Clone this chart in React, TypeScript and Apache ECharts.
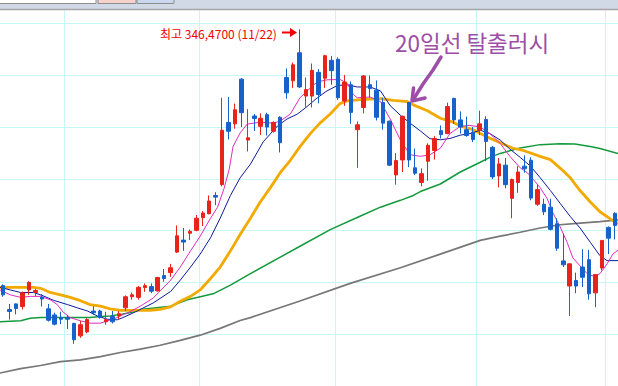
import React, { useEffect, useRef } from "react";
import * as echarts from "echarts";

// ---- candle data (open, close, low, high) ----
const OPEN = [107.7, 83.3, 89, 86.3, 103.3, 100.7, 96, 84, 77.7, 75, 75, 69, 56.3, 60.3, 81.7, 81.7, 70.7, 76, 76.7, 85,
  96.3, 95.7, 105.7, 106.7, 102.3, 118, 121, 142, 154.3, 161.3, 164.3, 177.3, 181.3, 200, 211, 274.7, 273.3, 319, 256.7, 281.3,
  270.7, 282.7, 265.7, 280, 320.7, 317.3, 346, 301.7, 301.7, 326, 320, 338.3, 339.3, 296.7, 313.3, 267.3, 290, 313.3, 307.7, 295,
  276, 221, 236.3, 295, 228.3, 213.3, 235, 246, 266.3, 263.3, 299.3, 277.3, 267.3, 264.7, 266.7, 277.7, 249.3, 220, 231, 197,
  213.3, 230, 236, 191, 191, 188, 171, 133, 107.3, 113, 126.7, 134.3, 100.3, 125.7, 167.3, 181.7];
const CLOSE = [98.3, 81.3, 84.3, 100.3, 111, 102.7, 94, 72.3, 68.3, 73.3, 73.3, 52.3, 67.7, 73, 80, 75, 73, 70.7, 79, 96.3,
  98.3, 106, 107.7, 102, 116, 115, 126, 158.7, 152.3, 163.3, 176.7, 182, 194.3, 198.3, 266.7, 265.7, 287.7, 284.7, 259, 278.7,
  279, 270, 274.7, 254, 305, 333.7, 311, 308.3, 328, 303.3, 343, 327.7, 300, 316, 285, 272.3, 322.3, 309.3, 280, 274,
  231, 235.7, 281, 236.3, 222.7, 222.3, 251.3, 258.3, 262.3, 291, 277.3, 270, 261.3, 257.3, 273.3, 255.3, 219, 232.3, 211, 216.3,
  224, 227.3, 197.3, 206, 183.3, 165.3, 146, 129, 130, 107.3, 116.3, 99.3, 119, 154, 156.3, 169.3];
const LOW = [96.3, 73, 78.3, 83.3, 98.3, 97, 86.3, 71, 67, 68.3, 63.3, 48.3, 54.3, 59, 77.7, 74, 67.7, 69, 73.3, 81.7,
  93.3, 93.3, 101.3, 100, 101.7, 111.7, 116.7, 141, 143.3, 154.3, 163.3, 168.7, 180.7, 190, 209.3, 257.3, 268.3, 270, 245, 266,
  261.7, 261.3, 264.3, 244, 299, 310, 310, 290.7, 290, 294.3, 310, 313.3, 297.7, 291.7, 273.3, 228.3, 284, 300, 276.7, 267.3,
  230, 211, 224, 229, 221, 209.3, 215, 236.7, 258.3, 262.7, 273.3, 263.3, 260, 254.7, 261.7, 235, 216.7, 208.3, 207.3, 176.7,
  202.7, 223.3, 195, 189.3, 180, 164.3, 143.3, 126.7, 76.7, 100, 106.3, 93.3, 85.7, 123.3, 140, 155];
const HIGH = [109, 89, 89.5, 101.7, 112.3, 104.3, 99, 89, 80, 81, 77.7, 69.7, 71.7, 74.3, 86.7, 83, 81, 81.7, 81.7, 97.7,
  100.7, 107.3, 110, 110, 116.7, 124.7, 130, 169.3, 166.7, 165, 180, 184, 200, 203.3, 300, 300.7, 294, 320, 288.3, 283.3,
  284, 284.7, 276, 281, 330, 336, 370, 320.7, 335, 329.3, 344, 342.7, 341.3, 323.3, 316.7, 275.7, 323.3, 322.7, 317.7, 300,
  276.7, 243.3, 281.7, 295.7, 248, 227.7, 253.3, 260.7, 271.7, 295, 300, 286, 280.7, 270, 286.7, 281, 250.7, 238.3, 238.3, 217.3,
  230, 241, 239, 211, 196.7, 196.7, 176.7, 161, 130.7, 121, 145, 144.3, 119.3, 154, 168.3, 182.7];

const CATEGORIES = OPEN.map((_, i) => String(i + 1));
const MONTH_STARTS = [10, 31, 52, 74, 94];

// ---- moving averages, [candle index, value] ----
const MA5 = [[-0.5, 103.3], [1.1, 98.3], [2.7, 95.7], [4.2, 96.7], [5.8, 96.7], [7.3, 93.3], [8.4, 88.3], [9.3, 80.7], [10.4, 75],
  [12, 71.7], [13.5, 69.3], [15.1, 69.3], [16.2, 71.7], [17.1, 73.3], [18.2, 76.7], [19.7, 81], [21.3, 86.7], [23.3, 95],
  [26, 113.3], [27.5, 126.7], [29.1, 143.3], [30.6, 158.3], [32.2, 176.7], [33.3, 188], [34.3, 207], [35.1, 226.7], [35.7, 250],
  [36.8, 264], [37.9, 273], [39.9, 275], [41.9, 274], [43, 276], [44.6, 283.3], [46.1, 300], [47.2, 306.7], [48.2, 313.3],
  [49.2, 316.7], [50.3, 318.3], [52.3, 318.7], [53.4, 315], [54.4, 303.3], [55, 300], [57, 300.7], [58.6, 296], [60.1, 278.3],
  [61.7, 256.7], [63.2, 241.7], [64.8, 240], [66.3, 241.7], [67.9, 248.3], [69.4, 263.3], [71, 270.7], [72.5, 271.7], [74.1, 270],
  [75.6, 263.3], [77.2, 253.3], [78.7, 240], [80.3, 228.3], [81.4, 223.3], [82.3, 216.7], [83.4, 208], [84.5, 196.7], [85.4, 182],
  [86.5, 168], [87.6, 152], [88.5, 136], [89.6, 128], [90.7, 120], [91.8, 117], [92.7, 120], [93.8, 130], [94.7, 140], [95.5, 144]];
const MA10 = [[-0.5, 106], [1.1, 103.3], [2.7, 100.7], [4.7, 100.7], [6.2, 97.3], [7.8, 92.7], [10, 88.3], [11.5, 85], [13.1, 81.7],
  [14.6, 76.7], [16.2, 73.3], [17.7, 72.7], [18.6, 75], [19.7, 78.3], [20.8, 81.7], [23.3, 90], [26, 101.7], [27.5, 113.3],
  [29.1, 126.7], [30.6, 140], [32.2, 156.7], [33.7, 176.7], [35.3, 200], [36.8, 218], [38.4, 232], [40.4, 255], [42.6, 271],
  [44.1, 278.3], [45.7, 283.3], [47.2, 291], [48.8, 300], [50.3, 307], [51.9, 312.5], [53.4, 313.3], [55, 311], [57, 311],
  [58.6, 307], [60.1, 292], [61.7, 282], [63.2, 274], [64.8, 266], [66.3, 258], [67.9, 257], [69.4, 258.3], [71, 261.7],
  [72.5, 263.3], [74.1, 266.7], [75.6, 263.3], [77.2, 256.7], [78.7, 247.5], [80.3, 239], [81.9, 230], [83.4, 218.3], [85, 205],
  [86.5, 192], [88.1, 178.3], [89.6, 166.7], [91.2, 152], [92.7, 138.3], [93.8, 133.3], [95.5, 133.3]];
const MA20 = [[-0.5, 106], [4.7, 106], [5.8, 105], [7.3, 100.7], [8.9, 98.3], [10.4, 95.7], [12, 92.3], [13.5, 88.3], [15.1, 86.7],
  [16.6, 84], [18.2, 82.3], [22.8, 82.5], [24.4, 83.5], [26, 86], [27.5, 91.7], [29.1, 96.7], [30.6, 103.3], [32.2, 115],
  [33.7, 126.7], [35.3, 143.3], [36.8, 160], [38.4, 176.7], [39.9, 193], [41.5, 208], [43, 223], [44.6, 236], [46.1, 250],
  [47.7, 263.3], [49.2, 274], [50.8, 283.3], [52.3, 294], [53.4, 296.7], [55.5, 298], [58.6, 299], [60.6, 297.3], [62.8, 296],
  [63.7, 292.7], [65.9, 286.7], [67.9, 279], [69.9, 275], [71, 271], [73, 267.3], [74.1, 263.3], [75.6, 258.5], [77.2, 254],
  [79.2, 248.3], [80.8, 246], [83.4, 240], [85, 236.7], [86.5, 228], [88.1, 218], [89.6, 205], [91.2, 193.3], [92.7, 183.3],
  [94.3, 176], [95.5, 171]];
const MA60 = [[-0.5, 70.7], [2.7, 71.7], [4.2, 74.3], [5.8, 75], [13.5, 75], [15.1, 76], [16.6, 76.7], [18.2, 78.3], [19.7, 80],
  [21.3, 83.3], [26, 86.7], [28.6, 93.3], [32.6, 99.3], [35.3, 108.3], [38.4, 120], [46.1, 148], [50.8, 165], [55.5, 179],
  [58.6, 188], [61.7, 195], [63.7, 200], [64.8, 204], [67.9, 211.7], [71, 224], [74.1, 234], [75.6, 239], [77.2, 243],
  [80.3, 248.5], [83.4, 252], [86.5, 253], [88.8, 252.7], [91.2, 250], [92.7, 248], [95.5, 243]];
const MA120 = [[-0.5, 18.3], [2.7, 22.7], [5.8, 26], [8.9, 30], [12, 31.7], [15.1, 35], [18.2, 39.3], [21.3, 42.7], [24.4, 46.7],
  [27.5, 51.7], [30.6, 57], [33.7, 64], [36.8, 72], [38.4, 75], [46.1, 92], [53.9, 110], [61.7, 126], [67.9, 140], [74.1, 154],
  [77.2, 158.3], [80.3, 162.3], [83.4, 166.7], [86.5, 170], [89.6, 171.7], [92.7, 173.3], [95.5, 175]];

const RED = "#e8231c";
const BLUE = "#1761cb";
const GRID_COLOR = "#c6f7f7";
const FONT = '"Noto Sans CJK KR", "Noto Sans", sans-serif';

function lineSeries(name: string, data: number[][], color: string, width: number, z: number) {
  return {
    name,
    type: "line",
    xAxisIndex: 1,
    yAxisIndex: 0,
    data,
    showSymbol: false,
    symbol: "none",
    silent: true,
    z,
    lineStyle: { color, width },
  };
}

export default function App() {
  const ref = useRef<HTMLDivElement>(null);
  useEffect(() => {
    if (!ref.current) return;
    const chart = echarts.init(ref.current, null, { renderer: "svg" });
    const candles = OPEN.map((o, i) => [o, CLOSE[i], LOW[i], HIGH[i]]);
    chart.setOption({
      animation: false,
      backgroundColor: "#ffffff",
      grid: { left: 0, right: 0, top: 0, bottom: -9, containLabel: false },
      xAxis: [
        {
          type: "category",
          data: CATEGORIES,
          boundaryGap: true,
          axisLine: { show: false },
          axisTick: { show: false },
          axisLabel: { show: false },
          splitLine: {
            show: true,
            interval: (index: number) => MONTH_STARTS.includes(index),
            lineStyle: { color: GRID_COLOR, width: 1 },
          },
        },
        { type: "value", min: -0.5, max: 95.5, show: false },
      ],
      yAxis: [
        { type: "value", min: 5, max: 400, show: false, scale: true },
        {
          type: "value",
          min: 0,
          max: 395,
          interval: 53,
          axisLine: { show: false },
          axisTick: { show: false },
          axisLabel: { show: false },
          splitLine: { show: true, lineStyle: { color: GRID_COLOR, width: 1 } },
        },
      ],
      series: [
        lineSeries("120", MA120, "#777777", 1.7, 2),
        lineSeries("60", MA60, "#139a3c", 1.5, 3),
        lineSeries("20", MA20, "#f2aa00", 2.8, 4),
        lineSeries("10", MA10, "#0d1b9c", 1, 5),
        lineSeries("5", MA5, "#e02cbc", 1, 6),
        {
          name: "price",
          type: "candlestick",
          xAxisIndex: 0,
          yAxisIndex: 0,
          data: candles,
          barWidth: 4,
          z: 10,
          itemStyle: {
            color: RED,
            color0: BLUE,
            borderColor: RED,
            borderColor0: BLUE,
            borderWidth: 1,
          },
        },
      ],
      graphic: [
        { type: "rect", z: 100, shape: { x: 0, y: 0, width: 618, height: 9 }, style: { fill: "#d2d9e6" } },
        { type: "rect", z: 101, shape: { x: -1, y: -1, width: 97, height: 4.5 }, style: { fill: "#ffffff", stroke: "#8e8e8e", lineWidth: 1 } },
        { type: "rect", z: 101, shape: { x: 98, y: -1, width: 38, height: 4.5 }, style: { fill: "#f6d2ca", stroke: "#8e8e8e", lineWidth: 1 } },
        { type: "rect", z: 101, shape: { x: 137, y: -1, width: 37, height: 4.5 }, style: { fill: "#c9d8ef", stroke: "#8e8e8e", lineWidth: 1 } },
        { type: "line", z: 101, shape: { x1: 0, y1: 9.5, x2: 618, y2: 9.5 }, style: { stroke: "#a4a4a4", lineWidth: 1.5 } },
        {
          type: "text",
          z: 50,
          x: 160,
          y: 33.5,
          style: { text: "최고 346,4700 (11/22)", fill: "#f00000", font: `12px ${FONT}`, verticalAlign: "middle", align: "left" },
        },
        { type: "line", z: 50, shape: { x1: 282, y1: 32.5, x2: 291, y2: 32.5 }, style: { stroke: "#f00000", lineWidth: 2 } },
        { type: "polygon", z: 50, shape: { points: [[290, 28], [297, 32.5], [290, 37]] }, style: { fill: "#f00000" } },
        {
          type: "text",
          z: 50,
          x: 395,
          y: 41.5,
          style: { text: "20일선 탈출러시", fill: "#9d4ea6", font: `22.5px ${FONT}`, verticalAlign: "middle", align: "left" },
        },
        {
          type: "polyline",
          z: 50,
          shape: { points: [[441, 57], [433, 70], [423, 84], [413, 100]] },
          style: { stroke: "#9d4ea6", lineWidth: 3.5, fill: null, lineCap: "round", lineJoin: "round" },
        },
        {
          type: "polyline",
          z: 50,
          shape: { points: [[413.5, 88], [412, 101], [425, 98]] },
          style: { stroke: "#9d4ea6", lineWidth: 3.5, fill: null, lineCap: "round", lineJoin: "round" },
        },
      ],
    });
    return () => chart.dispose();
  }, []);
  return (
    <div
      ref={ref}
      style={{ position: "fixed", left: 0, top: 0, width: 618, height: 386, background: "#fff" }}
    />
  );
}
